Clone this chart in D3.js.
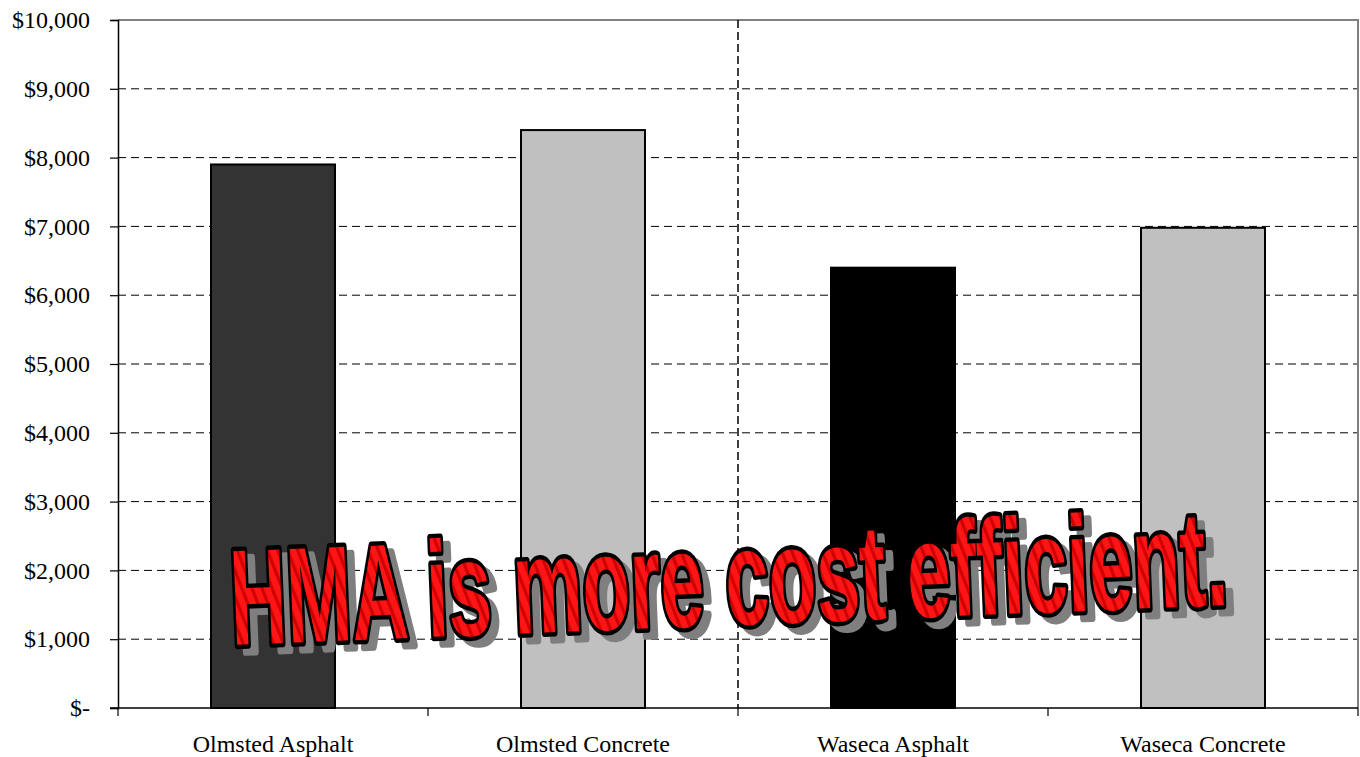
<!DOCTYPE html>
<html lang="en">
<head>
<meta charset="utf-8">
<script src="https://d3js.org/d3.v7.min.js"></script>
<style>
  body { margin: 0; background: #fff; }
</style>
</head>
<body>
<div id="chart"></div>
<script>
// data
var categories = ["Olmsted Asphalt", "Olmsted Concrete", "Waseca Asphalt", "Waseca Concrete"];
var costs = [7900, 8400, 6400, 6980];
var barColors = ["#333333", "#c0c0c0", "#000000", "#c0c0c0"];
var yTicks = [0, 1000, 2000, 3000, 4000, 5000, 6000, 7000, 8000, 9000, 10000];
var banner = "HMA is more cost efficient.";

var W = 1360, H = 757;
var margin = { top: 20, right: 2, bottom: 49, left: 118 };
var plotW = W - margin.left - margin.right;
var plotH = H - margin.top - margin.bottom;

var svg = d3.select("#chart").append("svg")
  .attr("width", W).attr("height", H);

// striped fill for the banner
var defs = svg.append("defs");
var pat = defs.append("pattern")
  .attr("id", "stripes")
  .attr("patternUnits", "userSpaceOnUse")
  .attr("width", 9).attr("height", 9)
  .attr("patternTransform", "rotate(-25)");
pat.append("rect").attr("width", 9).attr("height", 9).attr("fill", "#ff1515");
pat.append("rect").attr("width", 3).attr("height", 9).attr("fill", "#d00000");

var g = svg.append("g")
  .attr("transform", "translate(" + margin.left + "," + margin.top + ")");

// scales
var x = d3.scaleBand()
  .domain(categories)
  .range([0, plotW])
  .paddingInner(0.6)
  .paddingOuter(0.3);

var y = d3.scaleLinear()
  .domain([0, 10000])
  .range([plotH, 0]);

// gridlines
g.selectAll(".grid")
  .data(yTicks.filter(function(d) { return d > 0 && d < 10000; }))
  .enter().append("line")
  .attr("x1", 0).attr("x2", plotW)
  .attr("y1", function(d) { return y(d); })
  .attr("y2", function(d) { return y(d); })
  .style("stroke", "#000")
  .style("stroke-width", 1)
  .style("stroke-dasharray", "8,5");

// plot border top / right
g.append("path")
  .attr("d", "M0," + y(10000) + "H" + plotW + "V" + plotH)
  .style("fill", "none")
  .style("stroke", "#808080")
  .style("stroke-width", 2);

// vertical separator between the two counties
var step = x.step();
g.append("line")
  .attr("x1", step * 2).attr("x2", step * 2)
  .attr("y1", 0).attr("y2", plotH)
  .style("stroke", "#000")
  .style("stroke-width", 1.5)
  .style("stroke-dasharray", "8,4");

// bars
g.selectAll(".bar")
  .data(costs)
  .enter().append("rect")
  .attr("x", function(d, i) { return x(categories[i]); })
  .attr("width", x.bandwidth())
  .attr("y", function(d) { return y(d); })
  .attr("height", function(d) { return plotH - y(d); })
  .style("fill", function(d, i) { return barColors[i]; })
  .style("stroke", "#000")
  .style("stroke-width", 2);

// y axis
var yAxis = d3.axisLeft(y)
  .tickValues(yTicks)
  .tickSize(8)
  .tickPadding(20)
  .tickFormat(function(d) { return d === 0 ? "$-" : "$" + d3.format(",")(d); });
var yGuide = g.append("g").call(yAxis);
yGuide.select(".domain").style("stroke", "#000").style("stroke-width", 1.5);
yGuide.selectAll("line").style("stroke", "#000").style("stroke-width", 1.2);
yGuide.selectAll("text")
  .style("font-family", "'Liberation Serif', 'Times New Roman', serif")
  .style("font-size", "24px")
  .style("fill", "#000");

// x axis (ticks at category boundaries)
var bounds = d3.range(0, categories.length + 1).map(function(i) { return i * step; });
var xGuide = g.append("g").attr("transform", "translate(0," + plotH + ")");
xGuide.append("line")
  .attr("x1", -8).attr("x2", plotW)
  .style("stroke", "#000").style("stroke-width", 1.5);
xGuide.selectAll(".tk")
  .data(bounds)
  .enter().append("line")
  .attr("x1", function(d) { return d; }).attr("x2", function(d) { return d; })
  .attr("y1", 0).attr("y2", 8)
  .style("stroke", "#000").style("stroke-width", 1.2);
xGuide.selectAll(".lbl")
  .data(categories)
  .enter().append("text")
  .attr("x", function(d) { return x(d) + x.bandwidth() / 2; })
  .attr("y", 44)
  .attr("text-anchor", "middle")
  .style("font-family", "'Liberation Serif', 'Times New Roman', serif")
  .style("font-size", "24px")
  .style("fill", "#000")
  .text(function(d) { return d; });

// banner word art (stroke painted under the fill so the letters look heavier)
function bannerText(sel, dx, dy) {
  return sel.append("text")
    .attr("transform", "translate(" + (232 + dx) + "," + (645 + dy) + ") rotate(-2.3) scale(1,1.36)")
    .attr("textLength", 998)
    .attr("lengthAdjust", "spacingAndGlyphs")
    .style("font-family", "'Liberation Sans Narrow', 'Liberation Sans', Arial, sans-serif")
    .style("font-weight", "bold")
    .style("font-size", "100px")
    .style("paint-order", "stroke")
    .style("stroke-linejoin", "round")
    .text(banner);
}
bannerText(svg, 8, 7)
  .style("fill", "#7f7f7f")
  .style("stroke", "#7f7f7f")
  .style("stroke-width", 6);
bannerText(svg, 0, 0)
  .style("fill", "url(#stripes)")
  .style("stroke", "#000")
  .style("stroke-width", 6.5);
</script>
</body>
</html>
